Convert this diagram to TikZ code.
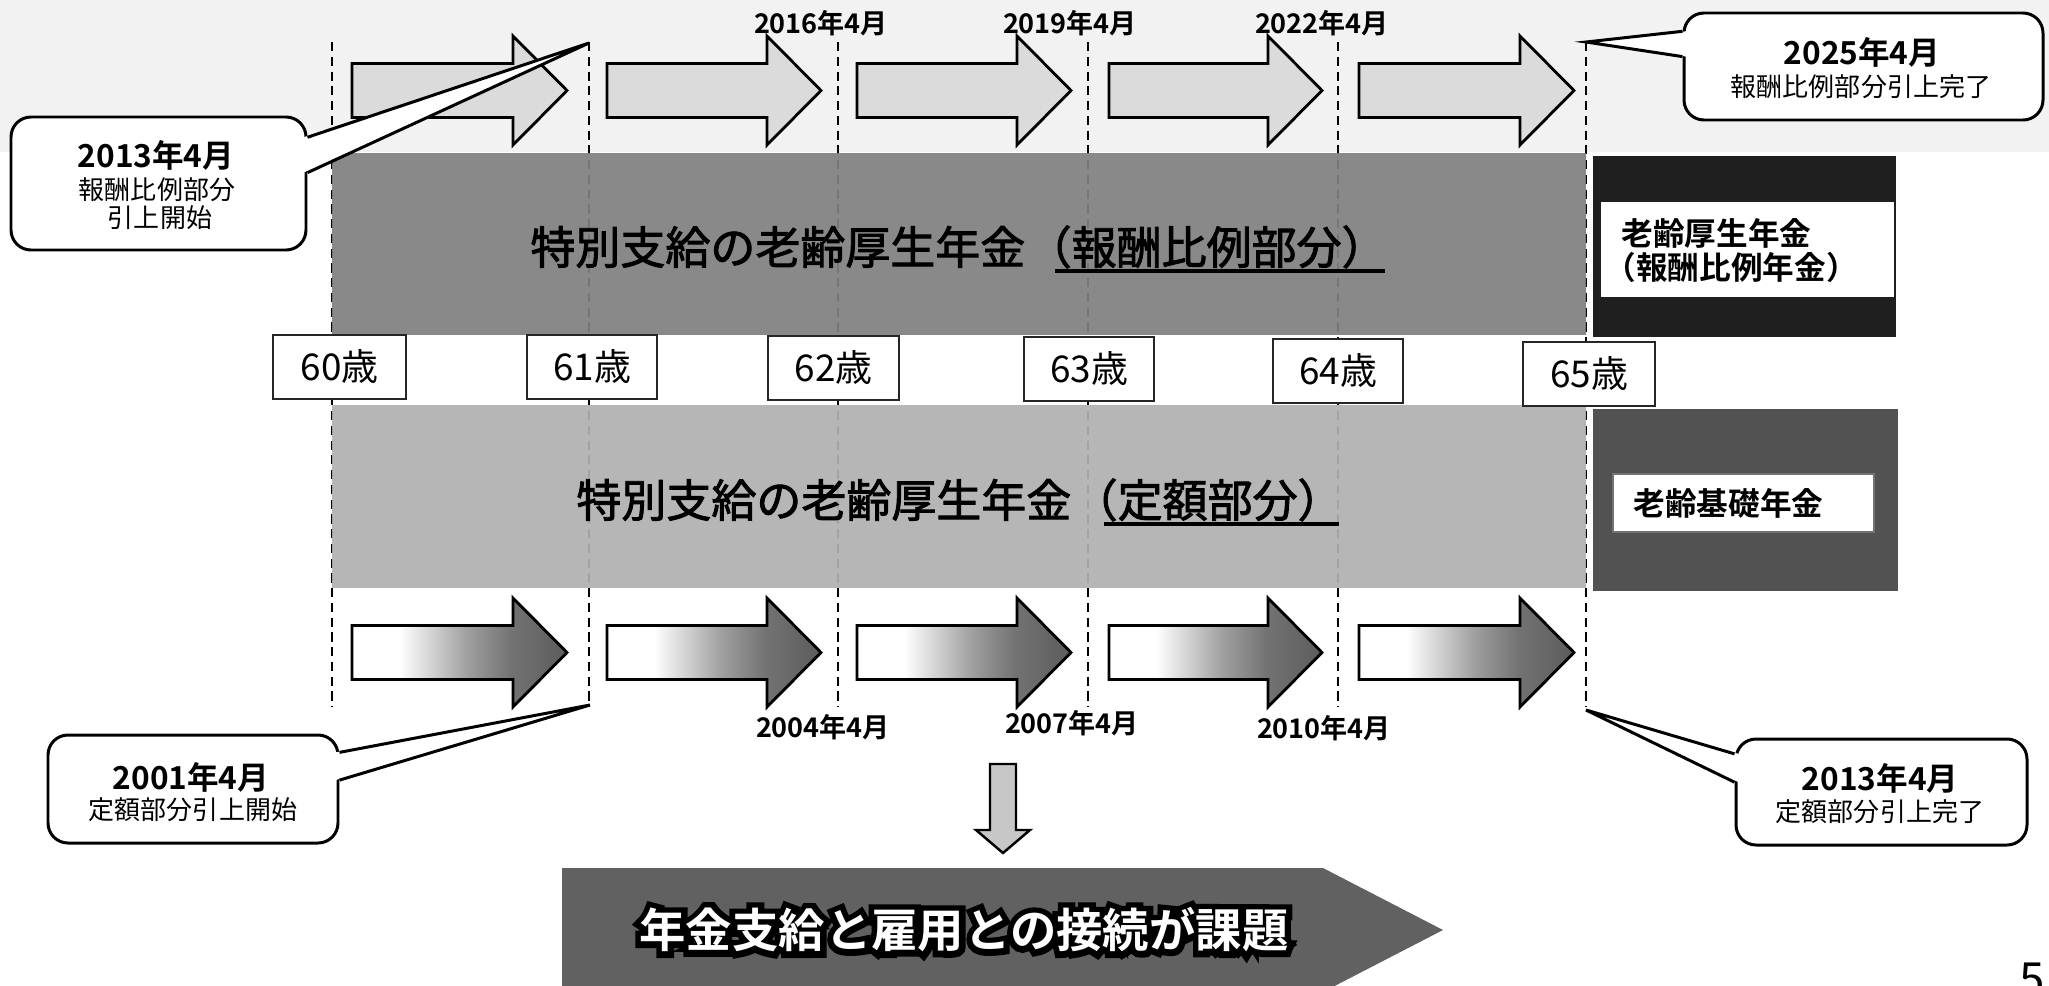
\documentclass[tikz,border=0pt]{standalone}
\usepackage{fontspec}
\setmainfont{Noto Sans CJK JP}[BoldFont={Noto Sans CJK JP Bold}]
\newfontfamily\bandfont{Noto Sans CJK JP}[FakeBold=2]
\newfontfamily\goalfont{Noto Sans CJK JP Bold}
\newfontfamily\goalrim{Noto Sans CJK JP Bold}[FakeBold=26]
\usetikzlibrary{calc}
\pgfdeclarehorizontalshading{botshade}{100bp}{color(0bp)=(white); color(25bp)=(white); color(36bp)=(white); color(52bp)=(black!38); color(62bp)=(black!55); color(75bp)=(black!64); color(100bp)=(black!64)}
\newcommand\fsz[1]{\fontsize{#1}{#1}\selectfont}
\newcommand\blkarrow[4]{\path[#1] (#2,#4-27) -- (#3-54,#4-27) -- (#3-54,#4-54.5) -- (#3,#4) -- (#3-54,#4+54.5) -- (#3-54,#4+27) -- (#2,#4+27) -- cycle;}
\begin{document}
\begin{tikzpicture}[x=0.1mm,y=-0.1mm,
  dline/.style={dash pattern=on 2.6pt off 1.6pt, line width=0.6pt},
  toparr/.style={draw=black, line width=0.8pt, fill=black!14},
  botarr/.style={draw=black, line width=0.8pt, shading=botshade},
  agebox/.style={draw=black!85, line width=0.5pt, fill=white, inner sep=0, font=\fsz{10.5}},
  callbox/.style={draw=black, line width=0.85pt, fill=white, rounded corners=2mm, inner sep=0},
  callline/.style={line width=0.85pt, line join=miter},
  datelbl/.style={inner sep=0, font=\bfseries\fsz{7.7}},
  ctitle/.style={inner sep=0, font=\bfseries\fsz{9}},
  csub/.style={inner sep=0, font=\fsz{7.4}},
  boxlbl/.style={inner sep=0, font=\bfseries\fsz{9}, anchor=west},
  bandtxt/.style={inner sep=0, font=\bandfont\fsz{12.8}},
]
\useasboundingbox (0,0) rectangle (2049,986);
\clip (0,0) rectangle (2049,986);

% light tint of top strip
\fill[black!5] (0,0) rectangle (2049,152);

% dashed time lines
\foreach \x in {332,589,838,1088,1338,1586} \draw[dline] (\x,42) -- (\x,707);

% bands
\fill[black!50, fill opacity=0.93] (332,153) rectangle (1586,335);
\fill[black!31, fill opacity=0.93] (332,405) rectangle (1586,588);

% right boxes
\fill[black!88] (1593,156) rectangle (1896,337);
\fill[white] (1601,202) rectangle (1894,297);
\fill[black!68] (1593,409) rectangle (1898,591);
\filldraw[fill=white, draw=black!55, line width=0.4pt] (1613,474) rectangle (1874,532);

% age boxes
\node[agebox, minimum width=13.3mm, minimum height=6.4mm] (a60) at (339.5,367) {60歳};
\node[agebox, minimum width=13.0mm, minimum height=6.4mm] (a61) at (592,367) {61歳};
\node[agebox, minimum width=13.1mm, minimum height=6.4mm] (a62) at (833.5,368) {62歳};
\node[agebox, minimum width=13.0mm, minimum height=6.4mm] (a63) at (1089,369) {63歳};
\node[agebox, minimum width=13.0mm, minimum height=6.4mm] (a64) at (1338,371) {64歳};
\node[agebox, minimum width=13.2mm, minimum height=6.4mm] (a65) at (1589,374) {65歳};

% arrows
\foreach \l/\t in {352/567, 607/821, 857/1071, 1109/1322, 1359/1574} {
  \blkarrow{toparr}{\l}{\t}{90.5}
  \blkarrow{botarr}{\l}{\t}{652.5}
}

% date labels
\node[datelbl] (d2016) at (821,23) {2016年4月};
\node[datelbl] (d2019) at (1070,23) {2019年4月};
\node[datelbl] (d2022) at (1322,23) {2022年4月};
\node[datelbl] (d2004) at (823,727) {2004年4月};
\node[datelbl] (d2007) at (1072,723) {2007年4月};
\node[datelbl] (d2010) at (1324,728) {2010年4月};

% band texts
\node[bandtxt, anchor=base east] (u1a) at (1026,264) {特別支給の老齢厚生年金};
\node[bandtxt, anchor=base west] (u1b) at (1026,264) {（報酬比例部分）};
\draw[line width=0.9pt] ($(u1b.base west)+(29,7)$) -- ($(u1b.base east)+(-2,7)$);
\node[bandtxt, anchor=base east] (u2a) at (1072,517) {特別支給の老齢厚生年金};
\node[bandtxt, anchor=base west] (u2b) at (1072,517) {（定額部分）};
\draw[line width=0.9pt] ($(u2b.base west)+(32,7)$) -- ($(u2b.base east)+(-4,7)$);

% right box labels
\node[boxlbl] (k1) at (1621,233) {老齢厚生年金};
\node[boxlbl] (k2) at (1604,267) {（報酬比例年金）};
\node[boxlbl] (k3) at (1633,503) {老齢基礎年金};

% callout 1
\node[callbox, minimum width=29.5mm, minimum height=13.3mm] (c1) at (158.5,183.5) {};
\coordinate (c1t) at (589,43);
\coordinate (c1a) at ($(c1.north east)!0.16!(c1.south east)$);
\coordinate (c1b) at ($(c1.north east)!0.42!(c1.south east)$);
\fill[white] ($(c1a)+(-4,0)$) -- (c1t) -- ($(c1b)+(-4,0)$) -- cycle;
\draw[callline] (c1a) -- (c1t) -- (c1b);
\node[ctitle] (c1l1) at (156,155) {2013年4月};
\node[csub] (c1l2) at (157,190) {報酬比例部分};
\node[csub] (c1l3) at (160,218) {引上開始};

% callout 2
\node[callbox, minimum width=35.9mm, minimum height=10.7mm] (c2) at (1863.5,66.5) {};
\coordinate (c2t) at (1586,42);
\coordinate (c2a) at ($(c2.north west)!0.18!(c2.south west)$);
\coordinate (c2b) at ($(c2.north west)!0.41!(c2.south west)$);
\fill[white] ($(c2a)+(4,0)$) -- (c2t) -- ($(c2b)+(4,0)$) -- cycle;
\draw[callline] (c2a) -- (c2t) -- (c2b);
\node[ctitle] (c2l1) at (1862,52) {2025年4月};
\node[csub] (c2l2) at (1861,87) {報酬比例部分引上完了};

% callout 3
\node[callbox, minimum width=29mm, minimum height=10.8mm] (c3) at (193,789) {};
\coordinate (c3t) at (590,705);
\coordinate (c3a) at ($(c3.north east)!0.17!(c3.south east)$);
\coordinate (c3b) at ($(c3.north east)!0.42!(c3.south east)$);
\fill[white] ($(c3a)+(-4,0)$) -- (c3t) -- ($(c3b)+(-4,0)$) -- cycle;
\draw[callline] (c3a) -- (c3t) -- (c3b);
\node[ctitle] (c3l1) at (191,777) {2001年4月};
\node[csub] (c3l2) at (193,810) {定額部分引上開始};

% callout 4
\node[callbox, minimum width=29.1mm, minimum height=10.6mm] (c4) at (1881.5,792) {};
\coordinate (c4t) at (1586,710);
\coordinate (c4a) at ($(c4.north west)!0.15!(c4.south west)$);
\coordinate (c4b) at ($(c4.north west)!0.41!(c4.south west)$);
\fill[white] ($(c4a)+(4,0)$) -- (c4t) -- ($(c4b)+(4,0)$) -- cycle;
\draw[callline] (c4a) -- (c4t) -- (c4b);
\node[ctitle] (c4l1) at (1880,778) {2013年4月};
\node[csub] (c4l2) at (1880,812) {定額部分引上完了};

% down arrow
\path[draw=black, line width=0.7pt, fill=black!22] (990,764) -- (1016,764) -- (1016,830) -- (1030,830) -- (1003,853) -- (976,830) -- (990,830) -- cycle;

% big conclusion arrow
\fill[black!62] (562,868) -- (1323,868) -- (1443,930) -- (1323,992) -- (562,992) -- cycle;
\node[inner sep=0, text=black, font=\goalrim\fsz{13.2}] (goalrim) at (964,930) {年金支給と雇用との接続が課題};
\node[inner sep=0, text=white, font=\goalfont\fsz{13.2}] (goal) at (goalrim.center) {年金支給と雇用との接続が課題};

% page number
\node[anchor=north east, inner sep=0, font=\fsz{13}] (pg) at (2046,962) {5};
\end{tikzpicture}
\end{document}
